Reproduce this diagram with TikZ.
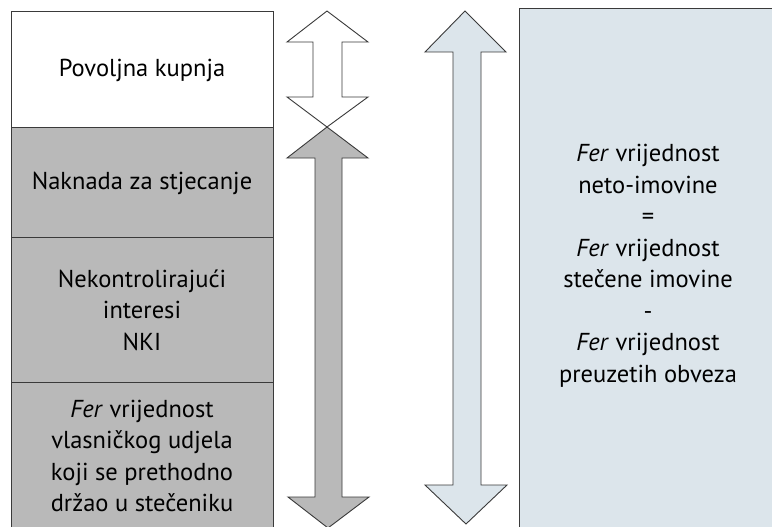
\documentclass[tikz,border=0pt]{standalone}
\usepackage{fontspec}
\setmainfont{PT Sans}
\definecolor{grayfill}{HTML}{B9B9B9}
\definecolor{bluefill}{HTML}{DCE5EB}
\definecolor{edge}{HTML}{3A3A3A}
\begin{document}
\begin{tikzpicture}[x=1pt,y=-1pt,
  box/.style={draw=edge,line width=0.9pt},
  arrowshape/.style={draw=edge,line width=0.9pt,line join=miter},
  txt/.style={font=\fontsize{24.5}{31.5}\selectfont,align=center,text=black,inner sep=0pt}]
\useasboundingbox (0,0) rectangle (772,527);
\fill[white] (0,0) rectangle (772,527);
% left column
\fill[grayfill] (11,127) rectangle (273,535);
\draw[box] (11,535) -- (11,11) -- (273,11) -- (273,535);
\draw[box] (11,127) -- (273,127);
\draw[box] (11,237) -- (273,237);
\draw[box] (11,382) -- (273,382);
% right box
\filldraw[box,fill=bluefill] (519,8) rectangle (790,540);
% white double arrow
\draw[arrowshape,fill=white] (327,11) -- (368,42) -- (342,42) -- (342,97) -- (368,97) -- (327,127) -- (287,97) -- (313,97) -- (313,42) -- (287,42) -- cycle;
% gray double arrow
\draw[arrowshape,fill=grayfill] (327,127) -- (368,158) -- (342,158) -- (342,497) -- (369,497) -- (328,528) -- (288,497) -- (315,497) -- (315,158) -- (287,158) -- cycle;
% blue double arrow
\draw[arrowshape,fill=bluefill] (465,11) -- (506,52) -- (481,52) -- (481,485) -- (507,485) -- (466,524) -- (425,485) -- (453,485) -- (453,52) -- (425,52) -- cycle;
% texts
\node[txt] (pk) at (142,70) {Povoljna kupnja};
\node[txt] (nz) at (142,183) {Naknada za stjecanje};
\node[txt] (nki) at (142,310) {Nekontrolirajući\\interesi\\NKI};
\node[txt] (fv) at (142,456) {\textit{Fer} vrijednost\\vlasničkog udjela\\koji se prethodno\\držao u stečeniku};
\node[txt] (rt) at (648,266) {\textit{Fer} vrijednost\\neto-imovine\\=\\\textit{Fer} vrijednost\\stečene imovine\\-\\\textit{Fer} vrijednost\\preuzetih obveza};
\end{tikzpicture}
\end{document}
